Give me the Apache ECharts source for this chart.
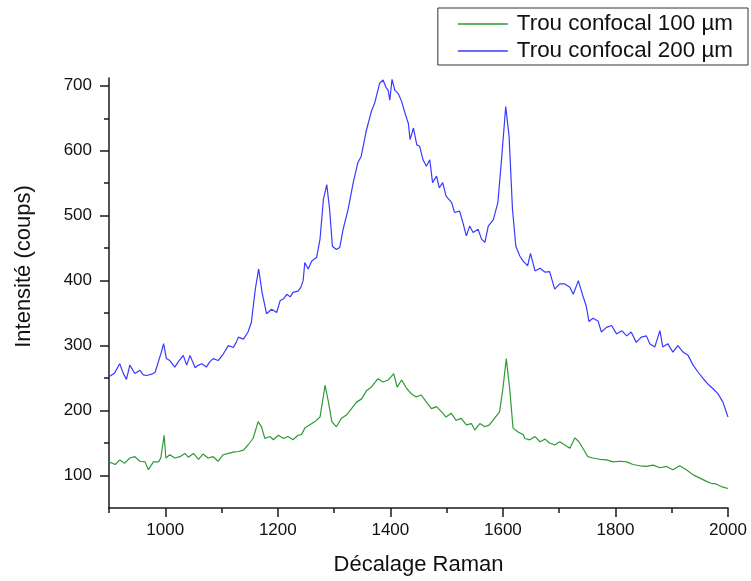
<!DOCTYPE html>
<html>
<head>
<meta charset="utf-8">
<script src="https://cdn.jsdelivr.net/npm/echarts@6/dist/echarts.min.js"></script>
<style>html,body{margin:0;padding:0;background:#fff;}#chart{width:751px;height:581px;}</style>
</head>
<body>
<div id="chart"></div>
<script>
var seriesNames = ['Trou confocal 100 µm', 'Trou confocal 200 µm'];
var xTickMajor = [1000, 1200, 1400, 1600, 1800, 2000];
var xTickMinor = [900, 1100, 1300, 1500, 1700, 1900];
var yTickMajor = [100, 200, 300, 400, 500, 600, 700];
var yTickMinor = [150, 250, 350, 450, 550, 650];

var greenX = [900,911,919,928,937,946,955,964,970,979,988,992,998,1001,1008,1017,1026,1035,1041,1050,1059,1067,1076,1085,1094,1103,1112,1121,1130,1139,1147,1156,1165,1171,1177,1186,1192,1201,1210,1218,1227,1236,1242,1248,1257,1266,1275,1284,1290,1296,1304,1313,1322,1331,1340,1349,1358,1366,1378,1387,1396,1406,1412,1420,1429,1437,1446,1455,1464,1473,1482,1491,1499,1508,1517,1526,1535,1544,1550,1559,1568,1576,1585,1594,1600,1606,1612,1618,1627,1636,1639,1648,1657,1666,1675,1683,1692,1701,1710,1719,1728,1735,1742,1751,1760,1772,1784,1796,1808,1820,1831,1843,1855,1867,1879,1891,1902,1914,1926,1938,1950,1962,1970,1979,1988,2000];
var greenY = [121,117,124,119,127,129,122,121,109,121,121,127,162,127,132,127,129,134,128,134,125,133,127,129,122,132,134,136,137,139,147,157,183,175,157,160,155,162,157,160,155,162,163,173,178,183,190,239,213,183,175,188,193,203,213,218,231,236,249,244,247,257,236,247,234,226,221,224,213,203,206,198,190,196,185,188,178,180,170,180,175,178,188,198,234,280,234,173,167,163,157,155,160,152,156,150,147,152,147,142,158,152,142,129,127,125,124,121,122,121,117,115,114,116,112,114,109,115,109,101,96,91,88,87,83,80];

var blueX = [900,910,919,925,931,937,946,955,961,967,976,982,988,993,997,1002,1008,1017,1023,1032,1038,1044,1053,1059,1065,1073,1079,1085,1094,1103,1112,1121,1126,1130,1139,1147,1153,1160,1166,1172,1180,1189,1198,1204,1210,1216,1222,1227,1236,1241,1245,1248,1254,1260,1269,1275,1281,1287,1292,1297,1304,1310,1316,1325,1334,1342,1348,1357,1366,1372,1381,1387,1392,1396,1399,1403,1408,1414,1420,1426,1432,1435,1441,1447,1452,1458,1464,1470,1475,1482,1487,1493,1499,1509,1514,1523,1529,1535,1541,1547,1556,1562,1568,1574,1583,1591,1597,1605,1611,1617,1623,1630,1636,1644,1649,1657,1666,1675,1683,1692,1701,1710,1719,1725,1734,1742,1748,1753,1760,1769,1775,1784,1793,1802,1811,1820,1828,1837,1846,1855,1861,1870,1879,1884,1893,1902,1911,1920,1929,1938,1947,1956,1964,1973,1982,1991,2000];
var blueY = [252,258,272,258,248,270,257,262,255,254,256,259,276,290,303,280,277,267,275,285,270,285,266,270,272,267,275,280,277,287,300,297,305,313,310,321,336,387,418,382,349,356,351,369,372,379,375,382,384,390,400,428,418,430,436,464,525,548,510,453,448,451,479,510,551,581,591,630,660,673,704,709,698,693,678,710,693,688,676,658,642,617,635,609,607,586,576,586,551,561,543,551,530,520,505,507,489,469,484,474,479,464,459,484,494,520,581,668,622,510,453,438,430,423,442,415,419,413,414,387,395,395,390,379,400,377,361,337,342,338,321,328,331,318,323,315,321,305,313,315,303,298,323,298,303,290,300,290,285,270,259,249,241,234,226,213,190];

function pairs(xs, ys) { return xs.map(function (x, i) { return [x, ys[i]]; }); }
function plain(v) { return String(v); }

var FONT = "'Liberation Sans', Arial, sans-serif";
var chart = echarts.init(document.getElementById('chart'), null, { renderer: 'canvas' });
var axisLineStyle = { color: '#1a1a1a', width: 1.5 };

chart.setOption({
  animation: false,
  backgroundColor: '#ffffff',
  textStyle: { fontFamily: FONT },
  grid: { left: 109, right: 23, top: 78, bottom: 72, containLabel: false },
  legend: {
    orient: 'vertical',
    right: 3,
    top: 8,
    padding: [5, 15, 3, 20],
    itemGap: 5,
    itemWidth: 50,
    itemHeight: 1.5,
    icon: 'rect',
    borderColor: '#333',
    borderWidth: 1,
    textStyle: { fontSize: 22.4, color: '#111', fontFamily: FONT, padding: [0, 0, 0, 4] },
    data: seriesNames
  },
  xAxis: [{
    type: 'value', position: 'bottom', min: 900, max: 2000, interval: 100,
    name: 'Décalage Raman', nameLocation: 'middle', nameGap: 46,
    nameTextStyle: { fontSize: 22, color: '#111', fontFamily: FONT },
    axisLine: { show: true, lineStyle: axisLineStyle },
    axisTick: { show: true, customValues: xTickMajor, length: 9, lineStyle: axisLineStyle },
    axisLabel: { show: true, customValues: xTickMajor, formatter: plain, fontSize: 17, color: '#111', margin: 14, fontFamily: FONT },
    splitLine: { show: false }
  }, {
    type: 'value', position: 'bottom', min: 900, max: 2000, interval: 100,
    axisLine: { show: false },
    axisTick: { show: true, customValues: xTickMinor, length: 5, lineStyle: axisLineStyle },
    axisLabel: { show: false },
    splitLine: { show: false }
  }],
  yAxis: [{
    type: 'value', position: 'left', min: 50, max: 712,
    name: 'Intensité (coups)', nameLocation: 'middle', nameGap: 74,
    nameTextStyle: { fontSize: 22, color: '#111', fontFamily: FONT, padding: [0, 0, 0, 53] },
    axisLine: { show: true, lineStyle: axisLineStyle },
    axisTick: { show: true, customValues: yTickMajor, length: 9, lineStyle: axisLineStyle },
    axisLabel: { show: true, customValues: yTickMajor, formatter: plain, fontSize: 17, color: '#111', margin: 17, fontFamily: FONT },
    splitLine: { show: false }
  }, {
    type: 'value', position: 'left', min: 50, max: 712,
    axisLine: { show: false },
    axisTick: { show: true, customValues: yTickMinor, length: 5, lineStyle: axisLineStyle },
    axisLabel: { show: false },
    splitLine: { show: false }
  }],
  series: [{
    name: seriesNames[0], type: 'line', xAxisIndex: 0, yAxisIndex: 0,
    data: pairs(greenX, greenY), showSymbol: false, symbol: 'none',
    lineStyle: { color: '#2f9a35', width: 1.2 }, itemStyle: { color: '#2f9a35' }
  }, {
    name: seriesNames[1], type: 'line', xAxisIndex: 0, yAxisIndex: 0,
    data: pairs(blueX, blueY), showSymbol: false, symbol: 'none',
    lineStyle: { color: '#3a3aff', width: 1.2 }, itemStyle: { color: '#3a3aff' }
  }]
});
</script>
</body>
</html>
